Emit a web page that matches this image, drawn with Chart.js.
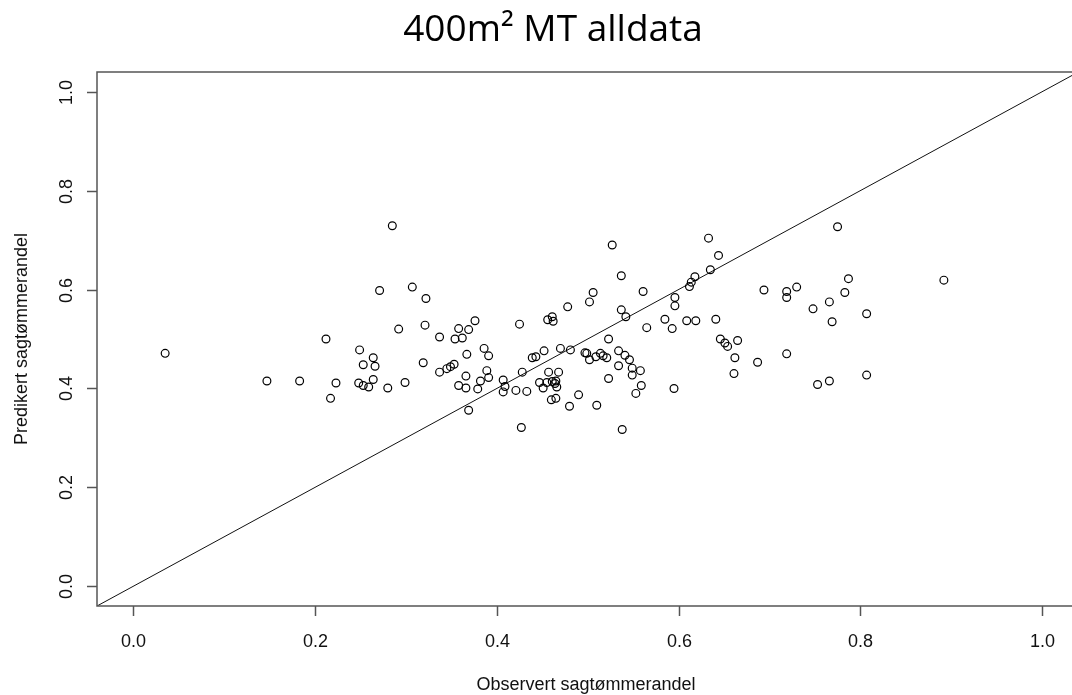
<!DOCTYPE html>
<html>
<head>
<meta charset="utf-8">
<title>400m² MT alldata</title>
<script src="https://cdn.jsdelivr.net/npm/chart.js@4/dist/chart.umd.min.js"></script>
<style>
  body { margin: 0; background: #fff; overflow: hidden; }
  canvas { display: block; }
</style>
</head>
<body>
<canvas id="myChart" width="1072" height="695"></canvas>
<script>
'use strict';

//Observed share of saw timber (x) and predicted share (y), one pair per plot
let observed = [
  0.285, 0.271, 0.292, 0.212, 0.035, 0.249, 0.264, 0.253, 0.266, 0.147,
  0.183, 0.223, 0.248, 0.253, 0.259, 0.264, 0.280, 0.217,
  0.527, 0.537, 0.561, 0.307, 0.322, 0.506, 0.502, 0.478, 0.537, 0.542,
  0.321, 0.376, 0.358, 0.369, 0.354, 0.362, 0.337, 0.425, 0.456, 0.461,
  0.462, 0.565, 0.523, 0.386, 0.391, 0.367, 0.319, 0.345, 0.349, 0.353,
  0.337, 0.366, 0.389, 0.391, 0.382, 0.358, 0.366, 0.379, 0.407, 0.409,
  0.407, 0.421, 0.433, 0.428, 0.439, 0.443, 0.452, 0.470, 0.481, 0.497,
  0.499, 0.502, 0.509, 0.514, 0.517, 0.521, 0.534, 0.541, 0.546, 0.534,
  0.549, 0.558, 0.549, 0.559, 0.553, 0.523, 0.457, 0.468, 0.447, 0.451,
  0.455, 0.461, 0.465, 0.464, 0.466, 0.460, 0.465, 0.490, 0.480, 0.510,
  0.369, 0.427, 0.538, 0.299,
  0.775, 0.633, 0.644, 0.635, 0.618, 0.614, 0.612, 0.596, 0.596, 0.694,
  0.719, 0.719, 0.730, 0.787, 0.783, 0.766, 0.748, 0.769, 0.807, 0.892,
  0.585, 0.593, 0.609, 0.619, 0.641, 0.646, 0.651, 0.654, 0.665, 0.662,
  0.661, 0.687, 0.719, 0.753, 0.766, 0.807, 0.595
];
let predicted = [
  0.729, 0.598, 0.520, 0.500, 0.471, 0.478, 0.462, 0.448, 0.445, 0.415,
  0.415, 0.411, 0.411, 0.406, 0.403, 0.418, 0.401, 0.380,
  0.690, 0.628, 0.596, 0.605, 0.582, 0.594, 0.575, 0.565, 0.559, 0.545,
  0.528, 0.537, 0.521, 0.519, 0.500, 0.502, 0.504, 0.530, 0.539, 0.545,
  0.536, 0.523, 0.500, 0.481, 0.466, 0.469, 0.452, 0.440, 0.444, 0.449,
  0.433, 0.425, 0.436, 0.422, 0.415, 0.406, 0.401, 0.399, 0.417, 0.404,
  0.393, 0.396, 0.394, 0.433, 0.462, 0.464, 0.476, 0.481, 0.478, 0.472,
  0.471, 0.458, 0.464, 0.471, 0.466, 0.462, 0.476, 0.467, 0.458, 0.446,
  0.441, 0.436, 0.427, 0.406, 0.390, 0.420, 0.433, 0.433, 0.412, 0.401,
  0.412, 0.414, 0.415, 0.410, 0.403, 0.377, 0.380, 0.387, 0.364, 0.366,
  0.356, 0.321, 0.317, 0.412,
  0.727, 0.704, 0.669, 0.640, 0.626, 0.615, 0.606, 0.584, 0.567, 0.599,
  0.596, 0.584, 0.605, 0.622, 0.594, 0.575, 0.561, 0.535, 0.551, 0.619,
  0.540, 0.521, 0.537, 0.537, 0.540, 0.500, 0.492, 0.485, 0.497, 0.462,
  0.430, 0.453, 0.470, 0.408, 0.415, 0.427, 0.400
];

//Tick labels for both axes
let xTicks = ['0.0', '0.2', '0.4', '0.6', '0.8', '1.0'];
let yTicks = ['0.0', '0.2', '0.4', '0.6', '0.8', '1.0'];

//Reference line y = x (intercept 0, slope 1) drawn across the plot
let ablineX = [-0.04, 1.04];

let chartTitle = '400m\u00b2 MT alldata';
let xTitle = 'Observert sagt\u00f8mmerandel';
let yTitle = 'Predikert sagt\u00f8mmerandel';

//Build the point list the library wants from the two arrays
let scatterPoints = [];
for (let i = 0; i < observed.length; i++) {
  scatterPoints.push({ x: observed[i], y: predicted[i] });
}
let ablinePoints = ablineX.map(function (v) { return { x: v, y: v }; });

//Frame, ticks and text the way base R draws them
const rStylePlot = {
  id: 'rStylePlot',
  afterDraw(chart) {
    const ctx = chart.ctx;
    const area = chart.chartArea;
    const xs = chart.scales.x;
    const ys = chart.scales.y;
    ctx.save();

    ctx.strokeStyle = '#555';
    ctx.lineWidth = 1.5;
    ctx.beginPath();
    ctx.moveTo(area.right + 8, area.top);
    ctx.lineTo(area.left, area.top);
    ctx.lineTo(area.left, area.bottom);
    ctx.lineTo(area.right + 8, area.bottom);
    ctx.stroke();

    ctx.fillStyle = '#111';
    ctx.font = '18px "Liberation Sans", Arial, sans-serif';

    //x axis ticks
    ctx.textAlign = 'center';
    ctx.textBaseline = 'alphabetic';
    for (let i = 0; i < xTicks.length; i++) {
      let px = Math.round(xs.getPixelForValue(parseFloat(xTicks[i]))) + 0.5;
      ctx.beginPath();
      ctx.moveTo(px, area.bottom);
      ctx.lineTo(px, area.bottom + 10);
      ctx.stroke();
      ctx.fillText(xTicks[i], px, 647);
    }

    //y axis ticks, labels turned like R does
    for (let i = 0; i < yTicks.length; i++) {
      let py = Math.round(ys.getPixelForValue(parseFloat(yTicks[i]))) + 0.5;
      ctx.beginPath();
      ctx.moveTo(area.left, py);
      ctx.lineTo(area.left - 10, py);
      ctx.stroke();
      ctx.save();
      ctx.translate(72, py);
      ctx.rotate(-Math.PI / 2);
      ctx.fillText(yTicks[i], 0, 0);
      ctx.restore();
    }

    //axis titles
    ctx.fillText(xTitle, 586, 690);
    ctx.save();
    ctx.translate(27, (area.top + area.bottom) / 2);
    ctx.rotate(-Math.PI / 2);
    ctx.fillText(yTitle, 0, 0);
    ctx.restore();

    //main title
    ctx.fillStyle = '#000';
    ctx.font = '37px "Open Sans", "Noto Sans", sans-serif';
    ctx.fillText(chartTitle, 553, 41);

    ctx.restore();
  }
};

const ctx = document.getElementById('myChart').getContext('2d');

new Chart(ctx, {
  type: 'scatter',
  data: {
    datasets: [
      {
        label: 'plots',
        data: scatterPoints,
        pointStyle: 'circle',
        pointRadius: 3.9,
        pointBorderWidth: 1.2,
        borderColor: '#000',
        backgroundColor: 'rgba(0,0,0,0)',
        pointHoverRadius: 3.9
      },
      {
        type: 'line',
        label: 'y = x',
        data: ablinePoints,
        borderColor: '#111',
        borderWidth: 1,
        pointRadius: 0,
        fill: false
      }
    ]
  },
  options: {
    responsive: false,
    animation: false,
    events: [],
    layout: {
      autoPadding: false,
      padding: { left: 97, top: 72, right: 0, bottom: 89 }
    },
    plugins: {
      legend: { display: false },
      tooltip: { enabled: false },
      title: { display: false }
    },
    scales: {
      x: {
        type: 'linear',
        min: -0.04,
        max: 1.033,
        display: false
      },
      y: {
        type: 'linear',
        min: -0.04,
        max: 1.04,
        display: false
      }
    }
  },
  plugins: [rStylePlot]
});
</script>
</body>
</html>
